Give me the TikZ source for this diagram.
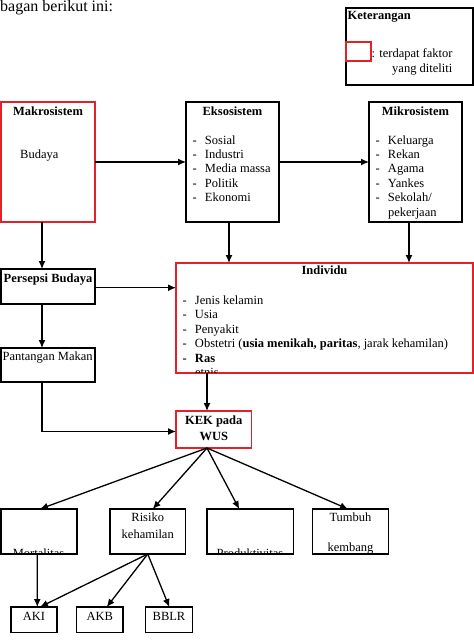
\documentclass[tikz,border=0pt]{standalone}
\usepackage{fontspec}
\setmainfont{Liberation Serif}
\usetikzlibrary{arrows.meta}
\definecolor{redc}{RGB}{228,32,40}
\tikzset{
  bx/.style={draw=black, line width=1.4pt, inner sep=0pt, outer sep=0pt},
  rbx/.style={draw=redc, line width=1.4pt, inner sep=0pt, outer sep=0pt},
  arr/.style={-{Latex[length=8pt,width=7pt]}, line width=1.3pt},
  thickedge/.style={line width=2.4pt},
  tx/.style={inner sep=0pt, anchor=base, font=\fontsize{12.5}{14.4}\selectfont},
  txw/.style={tx, anchor=base west},
  btx/.style={tx, font=\fontsize{12.5}{14.4}\selectfont\bfseries},
}
\newcommand{\dsh}[1]{\makebox[12.3pt][l]{-}#1}
\begin{document}
\begin{tikzpicture}[x=1pt,y=-1pt]
\useasboundingbox (0,0) rectangle (474,643);
% heading
\node[txw, font=\fontsize{16}{18}\selectfont] (head) at (0,11) {bagan berikut ini:};
% legend
\node[bx, line width=1.2pt, minimum width=127, minimum height=77] (ket) at (409.5,46.5) {};
\node[rbx, line width=1.2pt, minimum width=25, minimum height=19] (ketsq) at (358.5,51.5) {};
\node[txw, font=\fontsize{12.5}{14.4}\selectfont\bfseries] (kett) at (347.5,19) {Keterangan};
\node[txw] (ket1) at (371.5,57) {: terdapat faktor};
\node[txw] (ket2) at (392,72) {yang diteliti};
% top boxes
\node[rbx, minimum width=94, minimum height=120] (makro) at (48,162) {};
\draw[redc, thickedge] (makro.south west) -- (makro.north west);
\node[bx, minimum width=93, minimum height=120] (ekso) at (232.5,162) {};
\node[bx, minimum width=93, minimum height=120] (mikro) at (415.5,162) {};
\node[btx] (tmakro) at (48,115) {Makrosistem};
\node[txw] (budaya) at (20,158) {Budaya};
\node[btx] (tekso) at (232.5,115) {Eksosistem};
\foreach \t [count=\i] in {Sosial,Industri,Media massa,Politik,Ekonomi}
  \node[txw] (e\i) at (192.5,{144+14.45*(\i-1)}) {\dsh{\t}};
\node[btx] (tmikro) at (415.5,115) {Mikrosistem};
\foreach \t [count=\i] in {Keluarga,Rekan,Agama,Yankes,Sekolah/}
  \node[txw] (m\i) at (375.5,{144+14.45*(\i-1)}) {\dsh{\t}};
\node[txw] (m6) at (387.8,216.2) {pekerjaan};
% middle
\node[bx, minimum width=94, minimum height=35] (persepsi) at (48,286.5) {};
\draw[thickedge] (persepsi.south west) -- (persepsi.north west);
\node[btx] (tpers) at (48,282.7) {Persepsi Budaya};
\node[bx, minimum width=94, minimum height=34] (pantangan) at (48,365) {};
\draw[thickedge] (pantangan.south west) -- (pantangan.north west);
\node[txw] (tpant) at (2.5,360.7) {Pantangan Makan};
\node[rbx, minimum width=297, minimum height=110] (individu) at (324.5,318) {};
\node[btx] (tind) at (324.5,274.7) {Individu};
\node[txw] (i1) at (182.5,304) {\dsh{Jenis kelamin}};
\node[txw] (i2) at (182.5,318.5) {\dsh{Usia}};
\node[txw] (i3) at (182.5,333) {\dsh{Penyakit}};
\node[txw] (i4) at (182.5,347.5) {\dsh{Obstetri (\textbf{usia menikah, paritas}, jarak kehamilan)}};
\node[txw, font=\fontsize{12.5}{14.4}\selectfont\bfseries] (i5) at (182.5,362) {\dsh{Ras}};
\begin{scope}
  \clip (177,300) rectangle (472,372.3);
  \node[txw] (i6) at (194.8,376.5) {etnis};
\end{scope}
\node[rbx, minimum width=75.5, minimum height=37] (kek) at (213.75,429.5) {};
\node[btx] (tkek1) at (213.75,424) {KEK pada};
\node[btx] (tkek2) at (213.75,440) {WUS};
% bottom boxes
\node[bx, minimum width=76.5, minimum height=45] (mort) at (38.75,531.5) {};
\draw[thickedge] (mort.south west) -- (mort.north west);
\node[bx, minimum width=75.5, minimum height=45] (risiko) at (147.75,531.5) {};
\node[bx, minimum width=86.5, minimum height=45] (prod) at (250.25,531.5) {};
\node[bx, minimum width=76, minimum height=45] (tumbuh) at (350.5,531.5) {};
\begin{scope}
  \clip (0,510) rectangle (300,553.5);
  \node[tx] (tmort) at (38.5,557) {Mortalitas};
  \node[tx] (tprod) at (250,557) {Produktivitas};
\end{scope}
\node[tx] (tris1) at (147.75,521.7) {Risiko};
\node[tx] (tris2) at (147.75,538) {kehamilan};
\node[tx] (ttum1) at (350.5,521.7) {Tumbuh};
\node[tx] (ttum2) at (350.5,551) {kembang};
\node[bx, minimum width=46, minimum height=25.5] (aki) at (34,619.75) {};
\node[bx, minimum width=46.5, minimum height=25.5] (akb) at (99.75,619.75) {};
\node[bx, minimum width=47, minimum height=25.5] (bblr) at (169,619.75) {};
\node[tx] (taki) at (34,620) {AKI};
\node[tx] (takb) at (99.75,620) {AKB};
\node[tx] (tbblr) at (169,620) {BBLR};
% connectors
\draw[arr] (makro) -- (ekso);
\draw[arr] (ekso) -- (mikro);
\draw[arr] ([xshift=-6pt]makro.south) -- ([xshift=-6pt]persepsi.north);
\draw[arr] ([xshift=-3.5pt]ekso.south) -- ([xshift=-3.5pt]ekso.south |- individu.north);
\draw[arr] ([xshift=-6.5pt]mikro.south) -- ([xshift=-6.5pt]mikro.south |- individu.north);
\draw[arr] ([yshift=-1.2pt]persepsi.east) -- ([yshift=-1.2pt]persepsi.east -| individu.west);
\draw[arr] ([xshift=-6pt]persepsi.south) -- ([xshift=-6pt]pantangan.north);
\draw[arr] ([xshift=-6pt]pantangan.south) |- ([yshift=-2pt]kek.west);
\draw[arr] ([xshift=-6.75pt]kek.north |- individu.south) -- ([xshift=-6.75pt]kek.north);
\coordinate (kb) at ([xshift=-6.75pt]kek.south);
\draw[arr] (kb) -- ([xshift=1.2pt]mort.north);
\draw[arr] (kb) -- ([xshift=5pt]risiko.north);
\draw[arr] (kb) -- ([xshift=-11pt]prod.north);
\draw[arr] (kb) -- ([xshift=-2.5pt]tumbuh.north);
\draw[arr] ([xshift=-1.5pt]mort.south) -- ([xshift=3.3pt]aki.north);
\coordinate (rb) at (risiko.south);
\draw[arr] (rb) -- ([xshift=6pt]aki.north);
\draw[arr] (rb) -- ([xshift=7pt]akb.north);
\draw[arr] (rb) -- ([xshift=0.3pt]bblr.north);
\end{tikzpicture}
\end{document}
